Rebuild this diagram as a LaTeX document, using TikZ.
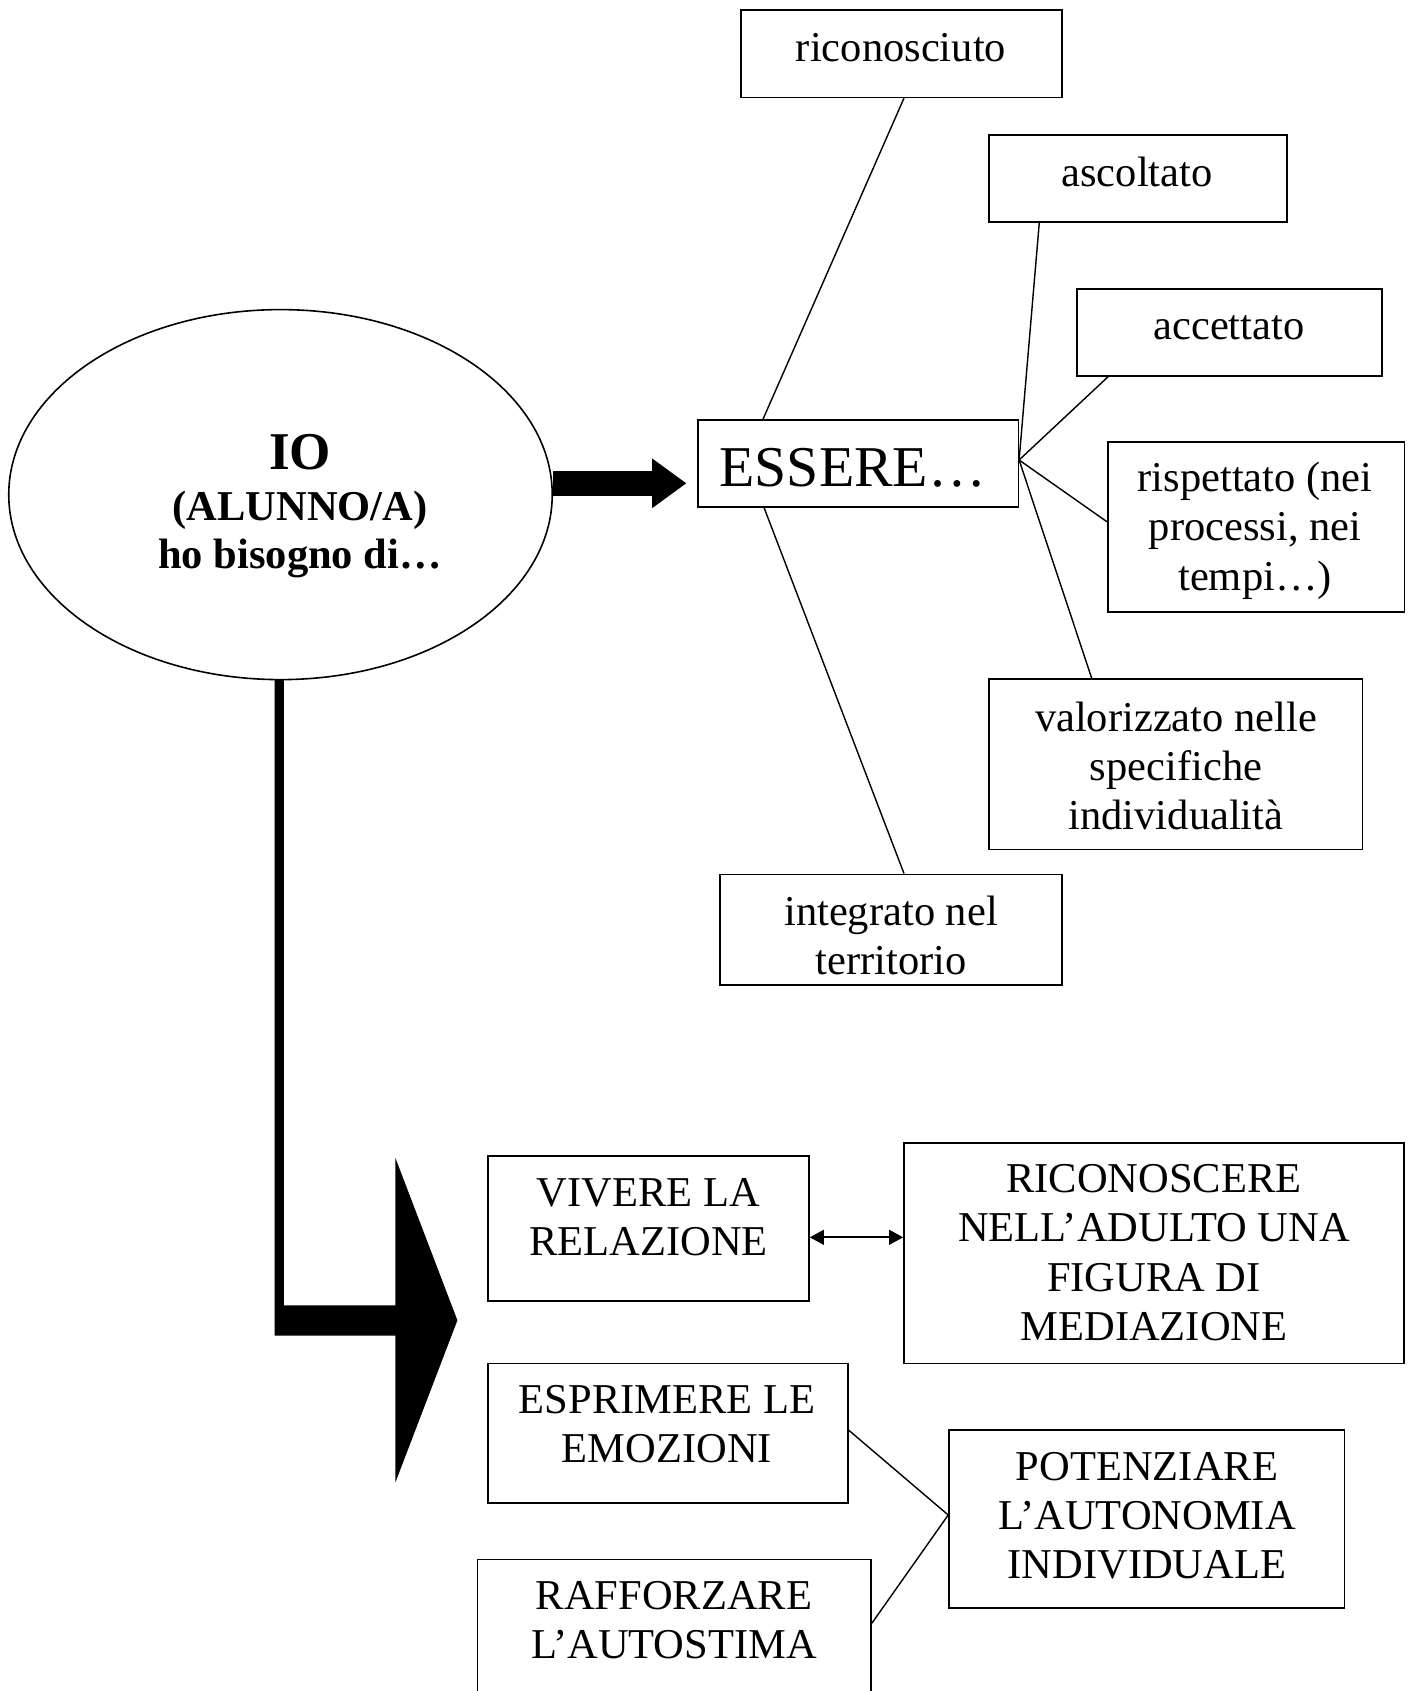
\documentclass[tikz,border=0pt]{standalone}
\usepackage{fontspec}
\setmainfont{Liberation Serif}
\usetikzlibrary{shapes.geometric,fit,arrows.meta}
\newlength\pxu
\setlength\pxu{0.28235pt}
\newcommand\mlines[1]{\begin{tabular}[t]{@{}c@{}}#1\end{tabular}}
\begin{document}
\begin{tikzpicture}[x=0.28235pt,y=-0.28235pt,
  box/.style={draw,line width=0.45pt,inner sep=0pt,rectangle},
  txt/.style={inner sep=0pt,anchor=base,font=\fontsize{12}{13.9}\selectfont},
  boldtxt/.style={inner sep=0pt,anchor=base,font=\bfseries\fontsize{12}{13.9}\selectfont},
  link/.style={line width=0.4pt},
  dblarrow/.style={line width=0.55pt,>={Triangle[length=4pt,width=4.2pt]},<->}
]
\useasboundingbox (0,0) rectangle (1412,1691);
\clip (0,0) rectangle (1412,1691);

% ---- boxes ----
\node[draw,line width=0.45pt,ellipse,inner sep=0pt,minimum width=543.5*\pxu,minimum height=370*\pxu] (io) at (280.5,494.6) {};
\node[box,fit={(740.7,10) (1062,97.3)}] (ric) {};
\node[box,fit={(988.7,135) (1287,221.7)}] (asc) {};
\node[box,fit={(1077,289) (1382,375.7)}] (acc) {};
\node[box,fit={(697.7,420) (1018.3,506.7)}] (ess) {};
\node[box,fit={(1107.7,441.7) (1404.3,611.7)}] (risp) {};
\node[box,fit={(988.7,679) (1362.5,849.5)}] (val) {};
\node[box,fit={(720,874.3) (1061.7,985)}] (int) {};
\node[box,fit={(487.7,1156) (809,1300.7)}] (viv) {};
\node[box,fit={(904,1142.7) (1404,1363.3)}] (rico) {};
\node[box,fit={(487.7,1363.3) (847.7,1502.7)}] (esp) {};
\node[box,fit={(949,1430) (1344.3,1607.7)}] (pot) {};
\node[box,fit={(477.3,1559.3) (871,1710)}] (raf) {};

% ---- texts ----
\node[boldtxt,font=\bfseries\fontsize{15}{18}\selectfont] (ioA) at (300,469.5) {IO};
\node[boldtxt] (ioB) at (300,520) {(ALUNNO/A)};
\node[boldtxt] (ioC) at (300,568.3) {ho bisogno di…};
\node[txt] (ricT) at (901,61) {riconosciuto};
\node[txt] (ascT) at (1137,186) {ascoltato};
\node[txt] (accT) at (1229,339.3) {accettato};
\node[txt,font=\fontsize{16.3}{18.5}\selectfont] (essT) at (852.7,486) {ESSERE…};
\node[txt] (rispT) at (1255,491.7) {\mlines{rispettato (nei\\processi, nei\\tempi…)}};
\node[txt] (valT) at (1176,731) {\mlines{valorizzato nelle\\specifiche\\individualità}};
\node[txt] (intT) at (891,925) {\mlines{integrato nel\\territorio}};
\node[txt] (vivT) at (648.5,1206.7) {\mlines{VIVERE LA\\RELAZIONE}};
\node[txt] (ricoT) at (1154,1192.7) {\mlines{RICONOSCERE\\NELL’ADULTO UNA\\FIGURA DI\\MEDIAZIONE}};
\node[txt] (espT) at (667,1413.3) {\mlines{ESPRIMERE LE\\EMOZIONI}};
\node[txt] (potT) at (1147,1480) {\mlines{POTENZIARE\\L’AUTONOMIA\\INDIVIDUALE}};
\node[txt] (rafT) at (674,1609.3) {\mlines{RAFFORZARE\\L’AUTOSTIMA}};

% ---- big arrows ----
\draw[line width=7.06pt,-{Triangle[length=9.71pt,width=13.36pt]},shorten >=2.94pt]
  (io.east |- 0,483.3) -- (ess.west |- 0,483.3);
\fill (274.5,679) -- (274.5,1335.7) -- (395.4,1335.7) -- (395.4,1482.4)
  -- (457.4,1320.3) -- (395.4,1157.9) -- (395.4,1305.3) -- (283.8,1305.3)
  -- (283.8,679) -- cycle;

% ---- connectors ----
\coordinate (P) at (ess.east |- 0,460);
\draw[link] (763,0 |- ess.north) -- (904,0 |- ric.south);
\draw[link] (P) -- (1039.3,0 |- asc.south);
\draw[link] (P) -- (1108.3,0 |- acc.south);
\draw[link] (P) -- (risp.west |- 0,521.7);
\draw[link] (P) -- (1091.7,0 |- val.north);
\draw[link] (764,0 |- ess.south) -- (904,0 |- int.north);
\draw[dblarrow] (viv.east |- 0,1237.3) -- (rico.west |- 0,1237.3);
\draw[link] (esp.east |- 0,1430) -- (pot.west |- 0,1515) -- (raf.east |- 0,1623.3);
\end{tikzpicture}
\end{document}
